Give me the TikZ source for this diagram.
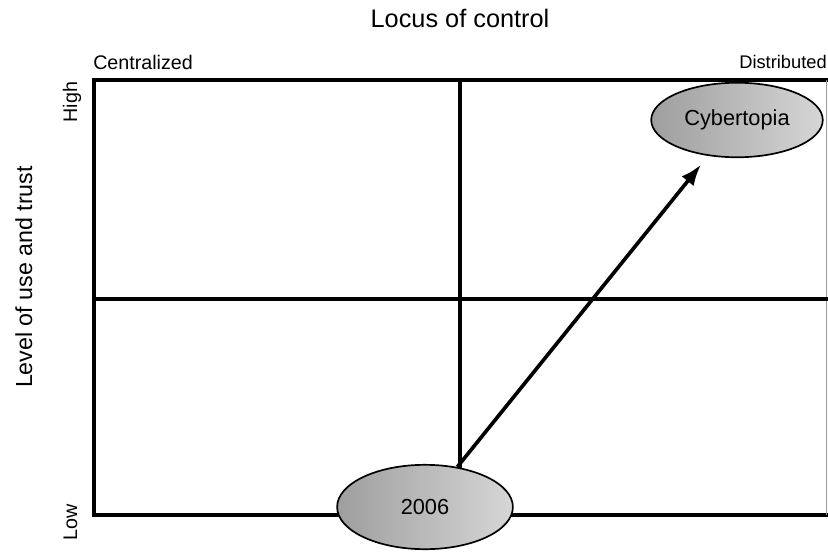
\documentclass[tikz,border=0pt]{standalone}
\usepackage{fontspec}
\setmainfont{Liberation Sans}
\usetikzlibrary{shapes.geometric,arrows.meta,positioning}

\begin{document}
\begin{tikzpicture}[x=0.025cm,y=-0.025cm,
		gridline/.style={line width=2.6pt},
		oval/.style={ellipse,draw,line width=1.2pt,inner sep=0pt,left color=black!38,right color=black!16,font=\fontsize{15.5}{18}\selectfont},
		cornerlabel/.style={font=\fontsize{14}{17}\selectfont},
		endlabel/.style={rotate=90,anchor=base,font=\fontsize{14}{16}\selectfont}]
	\useasboundingbox (0,0) rectangle (828,552);
	% quadrant frame
	\coordinate (tl) at (94,80);
	\coordinate (bl) at (94,515);
	\draw[gridline] (828,80) -- (tl) -- (bl) -- (828,515);
	\draw[line width=0.6pt,black!40] (826,80) -- (826,515);
	\draw[gridline] (460,80) -- (460,515);
	\draw[gridline] (94,299) -- (828,299);
	% axis titles
	\node[anchor=base,font=\fontsize{18}{20}\selectfont] (locus) at (460,27) {Locus of control};
	\node[rotate=90,anchor=base,font=\fontsize{16.5}{19}\selectfont] (level) at (32,277) {Level of use and trust};
	\node[cornerlabel,anchor=base west,inner sep=0pt] (central) at (93,69) {Centralized};
	\node[cornerlabel,anchor=base east,inner sep=0pt,font=\fontsize{13}{16}\selectfont] (distrib) at (827,68) {Distributed};
	\node[endlabel,inner sep=0pt] (high) at (77,102) {High};
	\node[endlabel,inner sep=0pt] (low) at (77,522) {Low};
	% the two states
	\node[oval,minimum width=122pt,minimum height=53pt] (cyber) at (737,120) {Cybertopia};
	\node[oval,minimum width=125pt,minimum height=60pt] (now) at (425,507) {2006};
	\draw[line width=2.6pt,-{Latex[length=15pt,width=11pt]},shorten >=8pt] (now) -- (cyber);
\end{tikzpicture}
\end{document}
